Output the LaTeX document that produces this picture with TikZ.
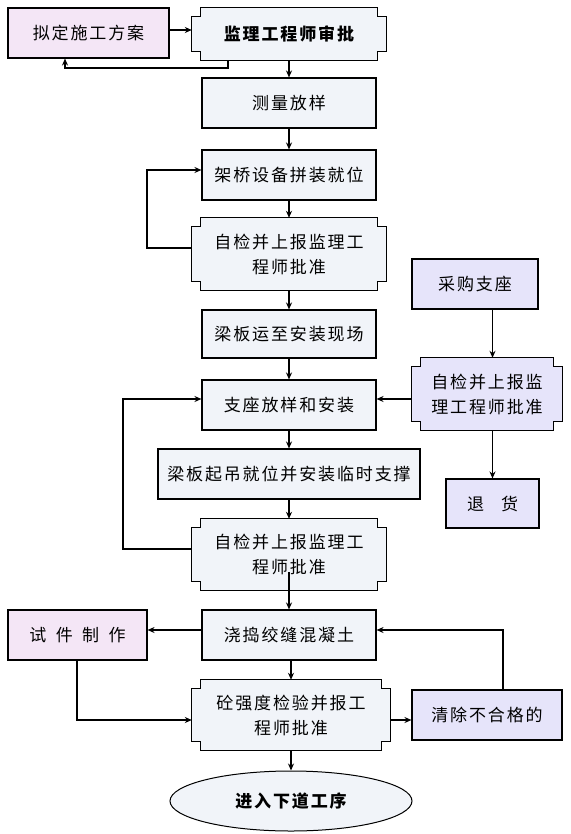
\documentclass[tikz,border=0pt]{standalone}
\usepackage{fontspec}
\setmainfont{Noto Sans CJK SC}[LetterSpace=11]
\usetikzlibrary{arrows.meta,backgrounds,calc,shapes.geometric}
\definecolor{mainfill}{HTML}{F1F4F9}
\definecolor{pinkfill}{HTML}{F4E6F6}
\definecolor{lavfill}{HTML}{E6E4FA}
\newcommand\notchshape[2]{%
  \begin{scope}[on background layer]
  \draw[line width=1.1pt, fill=#2] ($(#1.north west)+(0,9)$) -- ++(9,0) -- ++(0,-9)
    -- ($(#1.north east)+(-9,0)$) -- ++(0,9) -- ++(9,0)
    -- ($(#1.south east)+(0,-9)$) -- ++(-9,0) -- ++(0,9)
    -- ($(#1.south west)+(9,0)$) -- ++(0,-9) -- ++(-9,0) -- cycle;
  \end{scope}}
\begin{document}
\begin{tikzpicture}[x=1pt,y=-1pt,
  every node/.style={font=\fontsize{17}{25}\selectfont, inner sep=0pt, align=center},
  box/.style={draw, line width=1.1pt, fill=mainfill, minimum height=50pt},
  nbox/.style={minimum height=72pt, minimum width=194pt},
  arr/.style={-{Stealth[length=7pt,width=6pt]}, line width=1.1pt}]
\useasboundingbox (0,0) rectangle (570,834);
% main column
\node[box, fill=pinkfill, minimum width=161pt] (n1) at (88.5,33) {拟定施工方案};
\node[nbox, minimum height=52pt, font=\fontsize{17}{25}\selectfont\bfseries] (n2) at (289,34) {监理工程师审批};
\notchshape{n2}{mainfill}
\node[box, minimum width=174pt] (n3) at (289,103) {测量放样};
\node[box, minimum width=174pt] (n4) at (289,175) {架桥设备拼装就位};
\node[nbox] (n5) at (289,254) {自检并上报监理工\\程师批准};
\notchshape{n5}{mainfill}
\node[box, minimum width=174pt, minimum height=48pt] (n6) at (289,334) {梁板运至安装现场};
\node[box, minimum width=174pt] (n7) at (289,405) {支座放样和安装};
\node[box, minimum width=262pt] (n8) at (289,474) {梁板起吊就位并安装临时支撑};
\node[nbox, minimum height=71pt] (n9) at (289,554.5) {自检并上报监理工\\程师批准};
\notchshape{n9}{mainfill}
\node[box, minimum width=174pt] (n10) at (289,635) {浇捣绞缝混凝土};
\node[nbox, minimum width=198pt, minimum height=70pt] (n11) at (291,715) {砼强度检验并报工\\程师批准};
\notchshape{n11}{mainfill}
\node[ellipse, draw, line width=1pt, fill=mainfill, minimum width=242pt, minimum height=60pt,
  font=\fontsize{17}{25}\selectfont\bfseries] (n12) at (291,801) {进入下道工序};
% right column
\node[box, fill=lavfill, minimum width=126pt] (r1) at (475,284) {采购支座};
\node[nbox, minimum width=150pt] (r2) at (487,394) {自检并上报监\\理工程师批准};
\notchshape{r2}{lavfill}
\node[box, fill=lavfill, minimum width=93pt, minimum height=49pt] (r3) at (492.5,503.5) {退\hspace{1em}货};
% bottom side boxes
\node[box, fill=pinkfill, minimum width=139pt] (s1) at (77.5,635) {试\hspace{0.55em}件\hspace{0.55em}制\hspace{0.55em}作};
\node[box, fill=lavfill, minimum width=150pt] (c1) at (487,715) {清除不合格的};
% helper coordinates
\coordinate (k1) at (228,68);
\coordinate (k2) at (65,68);
\coordinate (l1a) at (147,248);
\coordinate (l1b) at (147,170);
\coordinate (l2a) at (123,549);
\coordinate (l2b) at (123,399);
\coordinate (b1) at (0,630);
\coordinate (b2) at (77,720);
\coordinate (b3) at (503,630);
% connectors
\draw[arr] (n1.east |- 0,30) -- (n2.west |- 0,30);
\draw[arr] (n2.south -| k1) -- (k1) -- (k2) -- (n1.south -| k2);
\draw[arr] (n2) -- (n3);
\draw[arr] (n3) -- (n4);
\draw[arr] (n4) -- (n5);
\draw[arr] (n5) -- (n6);
\draw[arr] (n6) -- (n7);
\draw[arr] (n7) -- (n8);
\draw[arr] (n8) -- (n9);
\draw[arr] ($(n9.south)+(0,-18)$) -- (n10.north);
\draw[arr] (n10.south -| n11.north) -- (n11.north);
\draw[arr] (n11.south) -- (n12.north);
\draw[arr] (n5.west |- l1a) -- (l1a) -- (l1b) -- (n4.west |- l1b);
\draw[arr] (n9.west |- l2a) -- (l2a) -- (l2b) -- (n7.west |- l2b);
\draw[arr] (r2.west |- l2b) -- (n7.east |- l2b);
\draw[arr] (r1.south -| r3) -- (r2.north -| r3);
\draw[arr] (r2.south -| r3) -- (r3.north);
\draw[arr] (n10.west |- b1) -- (s1.east |- b1);
\draw[arr] (s1.south -| b2) -- (b2) -- (n11.west |- b2);
\draw[arr] (n11.east |- b2) -- (c1.west |- b2);
\draw[arr] (c1.north -| b3) -- (b3) -- (n10.east |- b3);
\end{tikzpicture}
\end{document}
